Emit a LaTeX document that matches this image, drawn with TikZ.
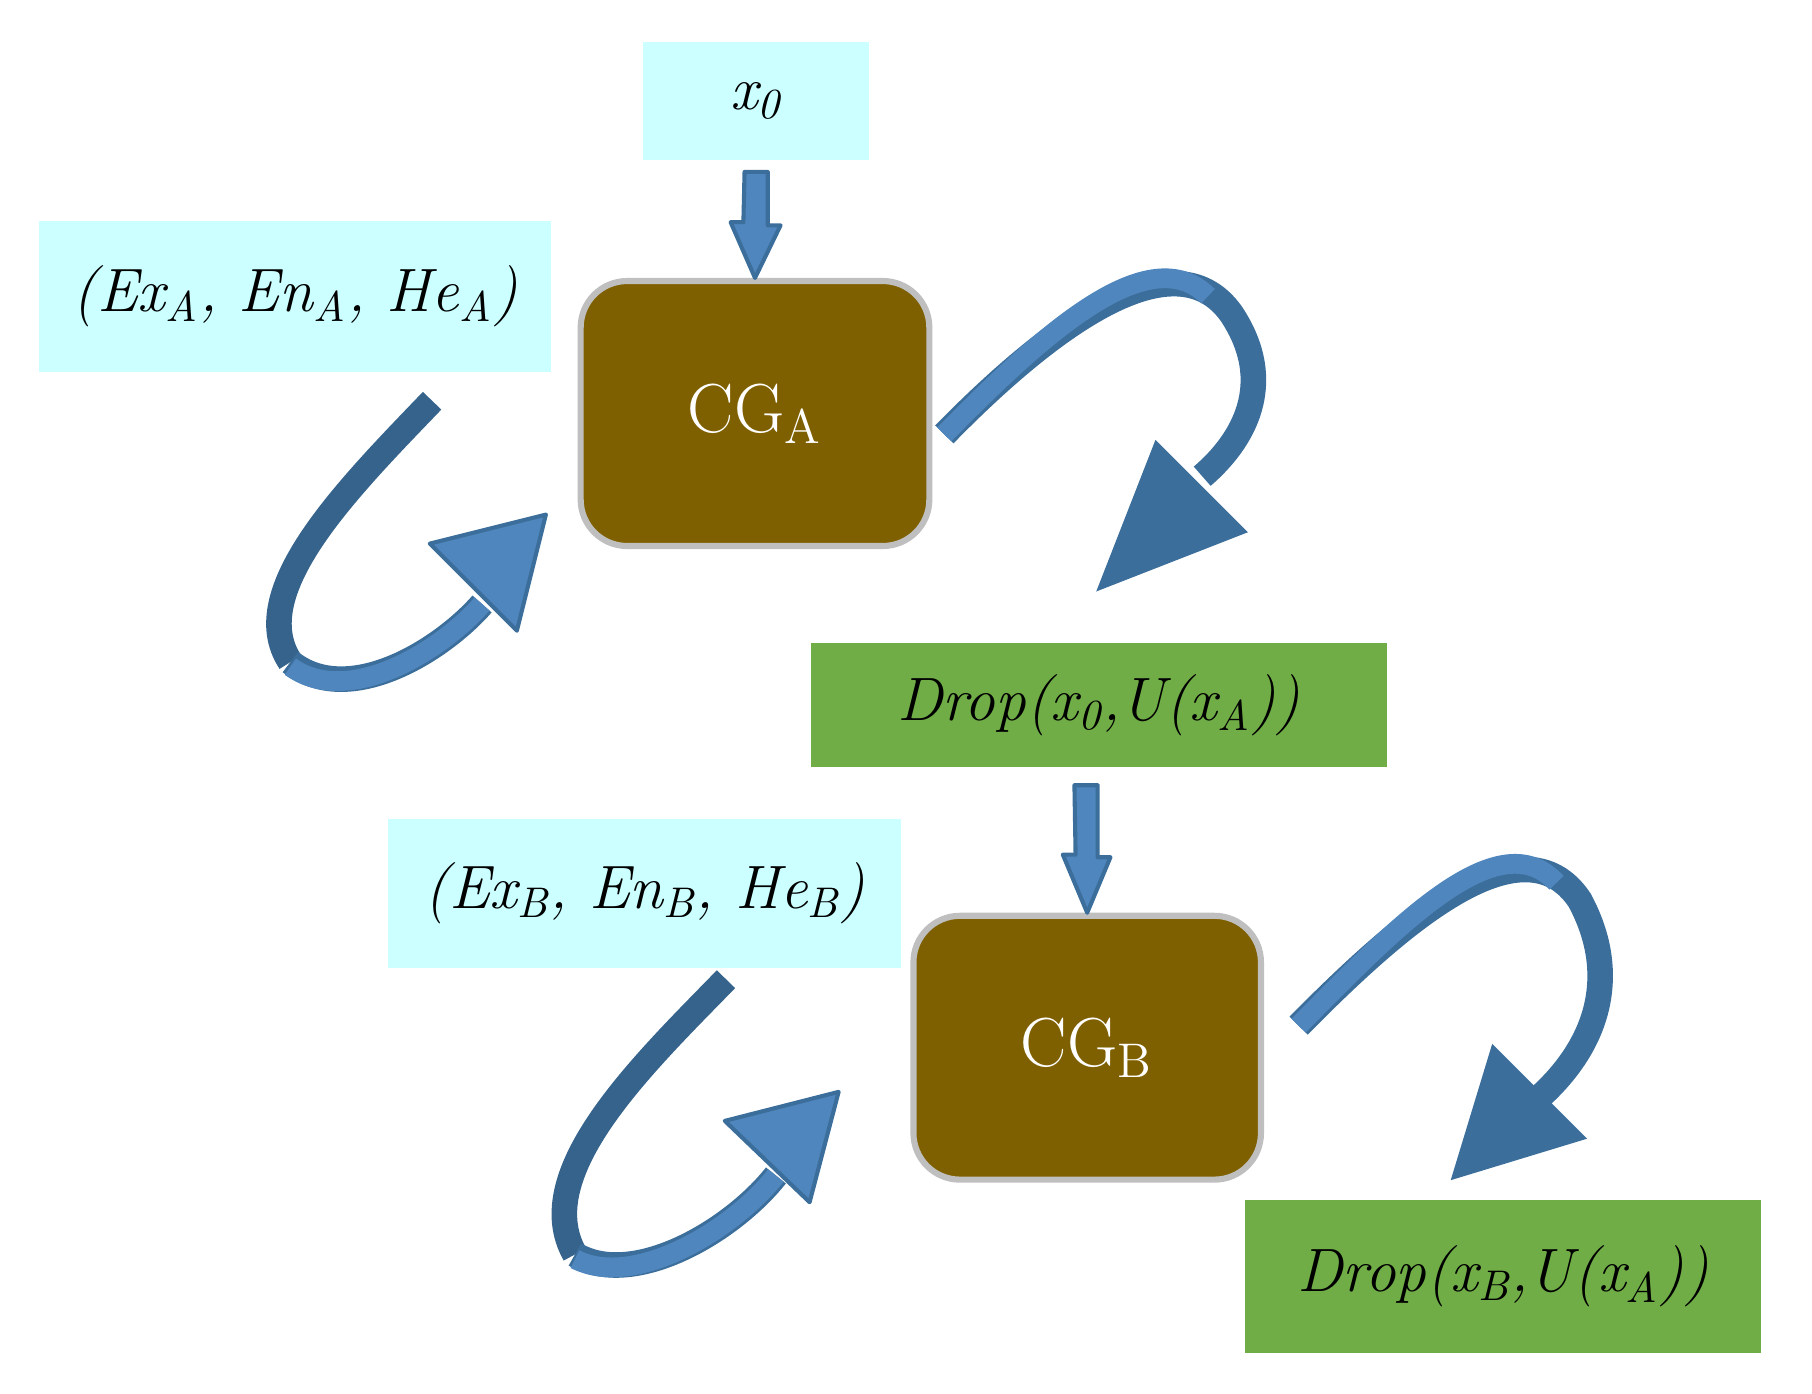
\documentclass[tikz,border=0pt]{standalone}
\usetikzlibrary{calc}
\begin{document}
\begin{tikzpicture}[x=0.01cm,y=-0.01cm,
  cg/.style={fill=brown1,draw=gray!50,line width=1.5pt,rounded corners=0.4cm,text=white},
  txt/.style={font=\fontsize{15}{18}\selectfont\itshape,inner sep=0},
  shaft/.style={line width=0.22cm,draw=blue2,line cap=butt},
  shaftin/.style={line width=0.17cm,draw=blue1,line cap=butt},
  head/.style={fill=blue1,draw=blue2,line width=1pt,line join=round}]
\definecolor{blue1}{HTML}{4F86BD}
\definecolor{blue2}{HTML}{3C6E9B}
\definecolor{brown1}{HTML}{7F6000}
\definecolor{green1}{HTML}{70AD47}
\definecolor{cyan1}{HTML}{CCFFFF}
\useasboundingbox (0,0) rectangle (1560,1200);
% boxes
\node[fill=cyan1,minimum width=1.94cm,minimum height=1.02cm,txt] (x0) at (651,87) {x\textsubscript{0}};
\node[fill=cyan1,minimum width=4.40cm,minimum height=1.30cm,txt] (pa) at (254,255) {(Ex\textsubscript{A}, En\textsubscript{A}, He\textsubscript{A})};
\node[cg,minimum width=3.0cm,minimum height=2.28cm,font=\fontsize{17}{20}\selectfont] (cga) at (650,356) {CG\textsubscript{A}};
\node[fill=green1,minimum width=4.96cm,minimum height=1.06cm,txt] (d1) at (946,607) {Drop(x\textsubscript{0},U(x\textsubscript{A}))};
\node[fill=cyan1,minimum width=4.41cm,minimum height=1.28cm,txt] (pb) at (555,769) {(Ex\textsubscript{B}, En\textsubscript{B}, He\textsubscript{B})};
\node[cg,minimum width=2.99cm,minimum height=2.27cm,font=\fontsize{17}{20}\selectfont] (cgb) at (936,902) {CG\textsubscript{B}};
\node[fill=green1,minimum width=4.44cm,minimum height=1.32cm,txt] (d2) at (1294,1099) {Drop(x\textsubscript{B},U(x\textsubscript{A}))};
% straight arrows
\coordinate (s1) at (651,148);
\coordinate (s2) at (935,676);
\filldraw[head] ($(s1)+(-10,0)$) -- ++(20,0) -- ++(0,46) -- ++(11,0) -- (cga.north) -- ++(-21,-48) -- ++(11,0) -- cycle;
\filldraw[head] ($(s2)+(-10,0)$) -- ++(20,0) -- ++(0,62) -- ++(11,0) -- (cgb.north) -- ++(-21,-50) -- ++(11,0) -- cycle;
% curved arrow right A
\coordinate (ra1) at (813,374);
\coordinate (ra2) at (1035,410);
\draw[shaft] (ra1) .. controls (900,285) and (1010,200) .. (1060,270) .. controls (1100,330) and (1070,380) .. (ra2);
\draw[shaftin] (ra1) .. controls (900,285) and (990,205) .. (1040,255);
\filldraw[fill=blue2,draw=blue2] (995,380) -- (1073,458) -- (945,508) -- cycle;
% curved arrow left A
\coordinate (la1) at (372,345);
\coordinate (la2) at (415,520);
\draw[shaft,draw=blue2!90!black] (la1) .. controls (300,420) and (210,510) .. (250,570);
\draw[shaft] (250,570) .. controls (300,610) and (380,560) .. (la2);
\draw[shaftin] (250,574) .. controls (300,610) and (380,560) .. (la2);
\filldraw[head] (370,468) -- (470,443) -- (445,543) -- cycle;
% curved arrow right B
\coordinate (rb1) at (1118,883);
\coordinate (rb2) at (1325,945);
\draw[shaft] (rb1) .. controls (1200,800) and (1310,700) .. (1360,775) .. controls (1395,840) and (1375,900) .. (rb2);
\draw[shaftin] (rb1) .. controls (1200,800) and (1290,705) .. (1340,760);
\filldraw[fill=blue2,draw=blue2] (1285,900) -- (1365,980) -- (1250,1015) -- cycle;
% curved arrow left B
\coordinate (lb1) at (625,843);
\coordinate (lb2) at (668,1012);
\draw[shaft,draw=blue2!90!black] (lb1) .. controls (555,915) and (455,1010) .. (495,1080);
\draw[shaft] (495,1080) .. controls (545,1110) and (630,1060) .. (lb2);
\draw[shaftin] (495,1084) .. controls (545,1110) and (630,1060) .. (lb2);
\filldraw[head] (624,965) -- (722,940) -- (697,1035) -- cycle;
\end{tikzpicture}
\end{document}
